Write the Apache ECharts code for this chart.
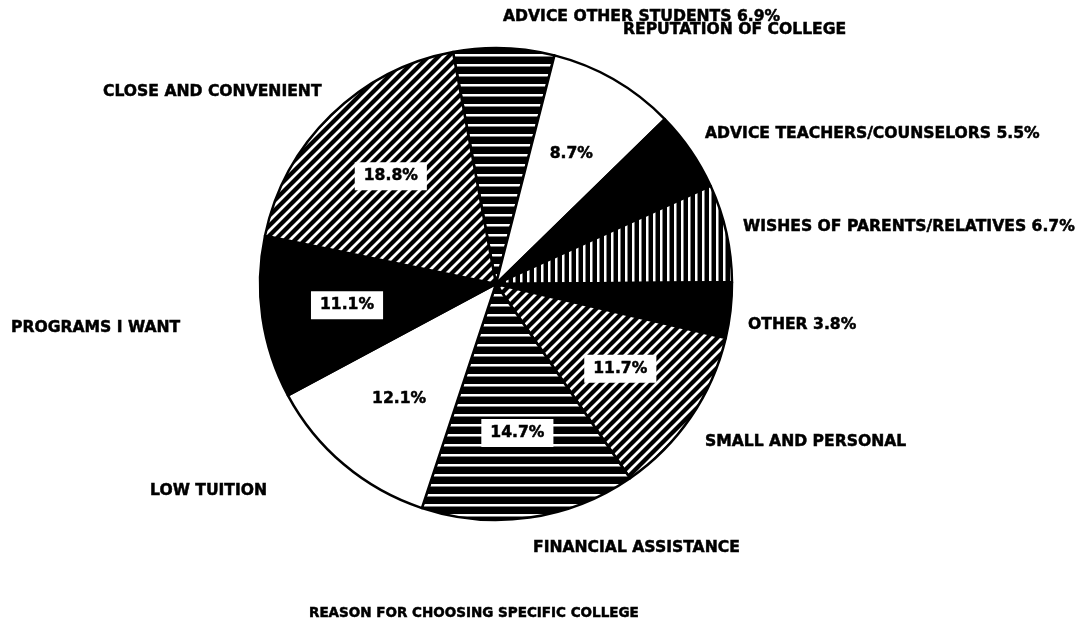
<!DOCTYPE html>
<html>
<head>
<meta charset="utf-8">
<script src="https://cdn.jsdelivr.net/npm/echarts@6/dist/echarts.min.js"></script>
<style>
html,body{margin:0;padding:0;background:#fff;}
#chart{width:1083px;height:625px;}
</style>
</head>
<body>
<div id="chart"></div>
<script>
// ---- DATA ----
const CATEGORIES = [
  'ADVICE OTHER STUDENTS',
  'REPUTATION OF COLLEGE',
  'ADVICE TEACHERS/COUNSELORS',
  'WISHES OF PARENTS/RELATIVES',
  'OTHER',
  'SMALL AND PERSONAL',
  'FINANCIAL ASSISTANCE',
  'LOW TUITION',
  'PROGRAMS I WANT',
  'CLOSE AND CONVENIENT'
];
const VALUES = [6.9, 8.7, 5.5, 6.7, 3.8, 11.7, 14.7, 12.1, 11.1, 18.8];
const TITLE = 'REASON FOR CHOOSING SPECIFIC COLLEGE';

// ---- presentation config ----
// whether the percentage is printed after the outside name
const PCT_OUTSIDE = [true, false, true, true, true, false, false, false, false, false];
// inside percentage label: 'box' (white box), 'plain', or '' (none)
const INSIDE_MODE = ['', 'plain', '', '', '', 'box', 'box', 'plain', 'box', 'box'];
// fill pattern per slice
const FILLS = ['hstripe', 'white', 'black', 'vstripe', 'black', 'diag', 'hstripe', 'white', 'black', 'diag'];
// outside label anchor (left x, middle y)
const LABEL_POS = [
  [503, 17], [623, 30], [705, 134], [743, 227], [748, 325],
  [705, 442], [533, 548], [150, 491], [11, 328], [103, 92]
];

function makePattern(kind) {
  const c = document.createElement('canvas');
  let w = 10, h = 10;
  if (kind === 'vstripe') { w = 7; h = 7; }
  c.width = w; c.height = h;
  const ctx = c.getContext('2d');
  ctx.fillStyle = '#000';
  ctx.fillRect(0, 0, w, h);
  ctx.fillStyle = '#fff';
  ctx.strokeStyle = '#fff';
  if (kind === 'vstripe') {
    ctx.fillRect(2, 0, 2.5, h);
  } else if (kind === 'hstripe') {
    ctx.fillRect(0, 4, w, 2.5);
  } else if (kind === 'diag') {
    ctx.lineWidth = 2.8;
    ctx.beginPath();
    ctx.moveTo(-1, w + 1); ctx.lineTo(w + 1, -1);
    ctx.moveTo(-w / 2 - 1, w / 2 + 1); ctx.lineTo(w / 2 + 1, -w / 2 - 1);
    ctx.moveTo(w / 2 - 1, w * 1.5 + 1); ctx.lineTo(w * 1.5 + 1, w / 2 - 1);
    ctx.stroke();
  }
  return { image: c, repeat: 'repeat' };
}
function fillFor(kind) {
  if (kind === 'white') return '#ffffff';
  if (kind === 'black') return '#000000';
  return makePattern(kind);
}

const FONT = 'DejaVu Sans';
const pct = v => v.toFixed(1) + '%';
const HEAVY = { textBorderColor: '#000', textBorderWidth: 0.5 };

const mainData = CATEGORIES.map((name, i) => ({
  name: name,
  value: VALUES[i],
  itemStyle: { color: fillFor(FILLS[i]) }
}));

const innerData = CATEGORIES.map((name, i) => {
  const mode = INSIDE_MODE[i];
  return {
    name: name,
    value: VALUES[i],
    label: mode === '' ? { show: false } : (mode === 'box' ? {
      show: true,
      backgroundColor: '#fff',
      padding: [7, 9, 5, 9]
    } : { show: true })
  };
});

const RADIUS = 236;
const CENTER = [496, 284];
const START = 100.5;

const chart = echarts.init(document.getElementById('chart'), null, { renderer: 'canvas' });
chart.setOption({
  backgroundColor: '#fff',
  animation: false,
  title: {
    text: TITLE,
    left: 304,
    top: 601,
    textStyle: Object.assign({ fontFamily: FONT, fontWeight: 'bold', fontSize: 13.5, color: '#000' }, HEAVY)
  },
  series: [
    {
      type: 'pie',
      center: CENTER,
      radius: [0, RADIUS],
      startAngle: START,
      clockwise: true,
      avoidLabelOverlap: false,
      silent: true,
      itemStyle: { borderColor: '#000', borderWidth: 2.5 },
      label: Object.assign({
        show: true,
        position: 'outside',
        fontFamily: FONT,
        fontWeight: 'bold',
        fontSize: 15.6,
        color: '#000',
        formatter: p => PCT_OUTSIDE[p.dataIndex] ? p.name + ' ' + pct(p.value) : p.name
      }, HEAVY),
      labelLine: { show: false },
      labelLayout: p => {
        const pos = LABEL_POS[p.dataIndex];
        return { x: pos[0], y: pos[1], align: 'left', verticalAlign: 'middle' };
      },
      data: mainData
    },
    {
      type: 'pie',
      center: CENTER,
      radius: [RADIUS * 0.25, RADIUS],
      startAngle: START,
      clockwise: true,
      silent: true,
      avoidLabelOverlap: false,
      itemStyle: { color: 'rgba(0,0,0,0)', borderWidth: 0 },
      label: Object.assign({
        show: true,
        position: 'inside',
        fontFamily: FONT,
        fontWeight: 'bold',
        fontSize: 15.6,
        color: '#000',
        formatter: p => pct(p.value)
      }, HEAVY),
      labelLine: { show: false },
      data: innerData
    }
  ]
});
</script>
</body>
</html>
